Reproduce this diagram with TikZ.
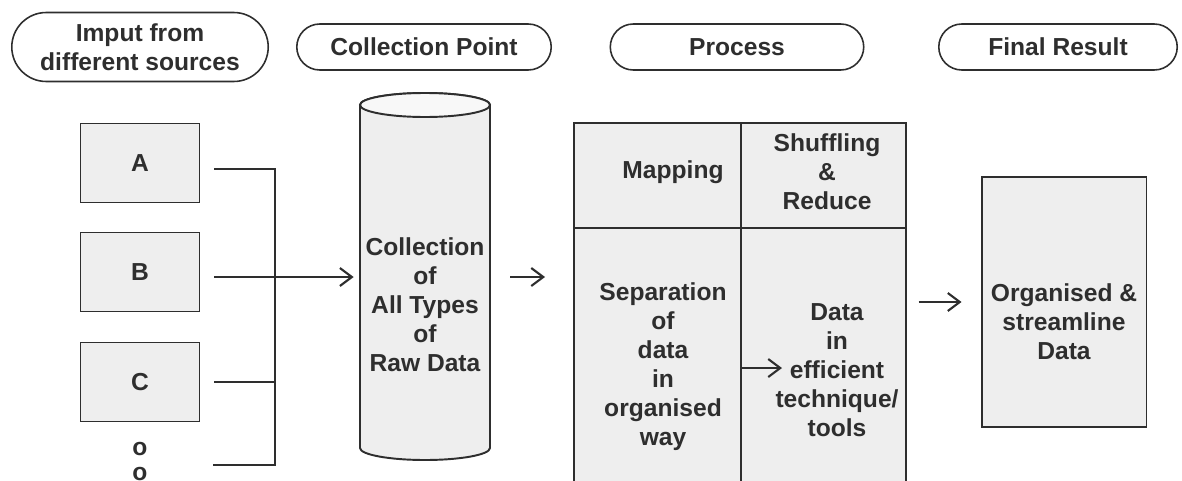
\documentclass[tikz,border=0pt]{standalone}
\usepackage{fontspec}
\setmainfont{Liberation Sans}
\usepackage{xcolor}
\usetikzlibrary{shapes.misc, arrows.meta, positioning}
\definecolor{ink}{HTML}{2E2E2E}
\definecolor{boxfill}{HTML}{EEEEEE}

\begin{document}
\begin{tikzpicture}[
        x=0.02cm, y=-0.02cm,
        font=\bfseries\fontsize{14}{16.5}\selectfont,
        pill/.style={rounded rectangle, draw=ink, line width=0.9pt, text=ink, minimum width=5.16cm, minimum height=0.92cm, align=center, inner sep=1pt},
        srcbox/.style={rectangle, draw=ink, fill=boxfill, line width=1.1pt, text=ink, minimum width=2.38cm, minimum height=1.58cm},
        cell/.style={rectangle, draw=ink, fill=boxfill, line width=1.1pt, anchor=north west},
        txt/.style={align=center, inner sep=0pt, text=ink},
        wire/.style={draw=ink, line width=1.2pt},
        arr/.style={wire, -{Straight Barb[length=2.4mm, width=3.6mm]}}
    ]
    \useasboundingbox (0,0) rectangle (1182,480);

    % headers
    \node[pill, minimum width=5.2cm, minimum height=1.38cm] (hInput) at (140,47) {Imput from\\different sources};
    \node[pill] (hCollect) at (424,47) {Collection Point};
    \node[pill, minimum width=5.14cm] (hProcess) at (737,47) {Process};
    \node[pill, minimum width=4.84cm] (hFinal) at (1058,47) {Final Result};

    % sources
    \node[srcbox] (A) at (140,163) {A};
    \node[srcbox] (B) at (140,272) {B};
    \node[srcbox] (C) at (140,382) {C};
    \node[txt] (dotA) at (140,449) {o};
    \node[txt] (dotB) at (140,474) {o};

    % collection cylinder
    \draw[ink, line width=1.1pt, fill=boxfill] (360,105) -- (360,448)
        arc[start angle=180, end angle=360, x radius=1.3cm, y radius=0.24cm] -- (490,105)
        arc[start angle=0, end angle=180, x radius=1.3cm, y radius=0.24cm] -- cycle;
    \draw[ink, line width=1.1pt, fill=white!60!boxfill] (425,105) ellipse [x radius=1.3cm, y radius=0.24cm];
    \node[minimum width=2.6cm, minimum height=7.34cm] (cyl) at (425,277) {};
    \node[txt] (cylTxt) at (425,305) {Collection\\of\\All Types\\of\\Raw Data};

    % process grid
    \node[cell, minimum width=3.34cm, minimum height=2.1cm] (map) at (573,122) {};
    \node[cell, minimum width=3.3cm, minimum height=2.1cm] (shuf) at (740,122) {};
    \node[cell, minimum width=3.34cm, minimum height=5.2cm] (sep) at (573,227) {};
    \node[cell, minimum width=3.3cm, minimum height=5.2cm] (tech) at (740,227) {};
    \node[txt] (mapTxt) at (673,172) {Mapping};
    \node[txt] (shufTxt) at (827,172) {Shuffling\\\&\\Reduce};
    \node[txt] (sepTxt) at (663,367) {Separation\\of\\data\\in\\organised\\way};
    \node[txt] (techTxt) at (837,370) {Data\\in\\efficient\\technique/\\tools};

    % final result
    \node[srcbox, minimum width=3.3cm, minimum height=5cm] (final) at (1064,302) {};
    \node[txt] (finalTxt) at (1064,322) {Organised \&\\streamline\\Data};

    % connectors
    \coordinate (busEnd) at (275,465);
    \coordinate (dotEnd) at (213,465);
    \coordinate (inner) at (740,368);
    \draw[wire] ([shift={(14,6)}]A.east) -| (busEnd) -- (dotEnd);
    \draw[wire] ([shift={(14,0)}]C.east) -- (C.east -| busEnd);
    \draw[arr] ([shift={(14,5)}]B.east) -- ([xshift=-0.12cm]cyl.west);
    \draw[arr] ([xshift=0.4cm]cyl.east) -- ([xshift=-0.56cm]cyl.east -| map.west);
    \draw[arr] (inner) -- ([xshift=0.84cm]inner);
    \draw[arr] ([xshift=-1.24cm]final.west) -- ([xshift=-0.38cm]final.west);
\end{tikzpicture}
\end{document}
